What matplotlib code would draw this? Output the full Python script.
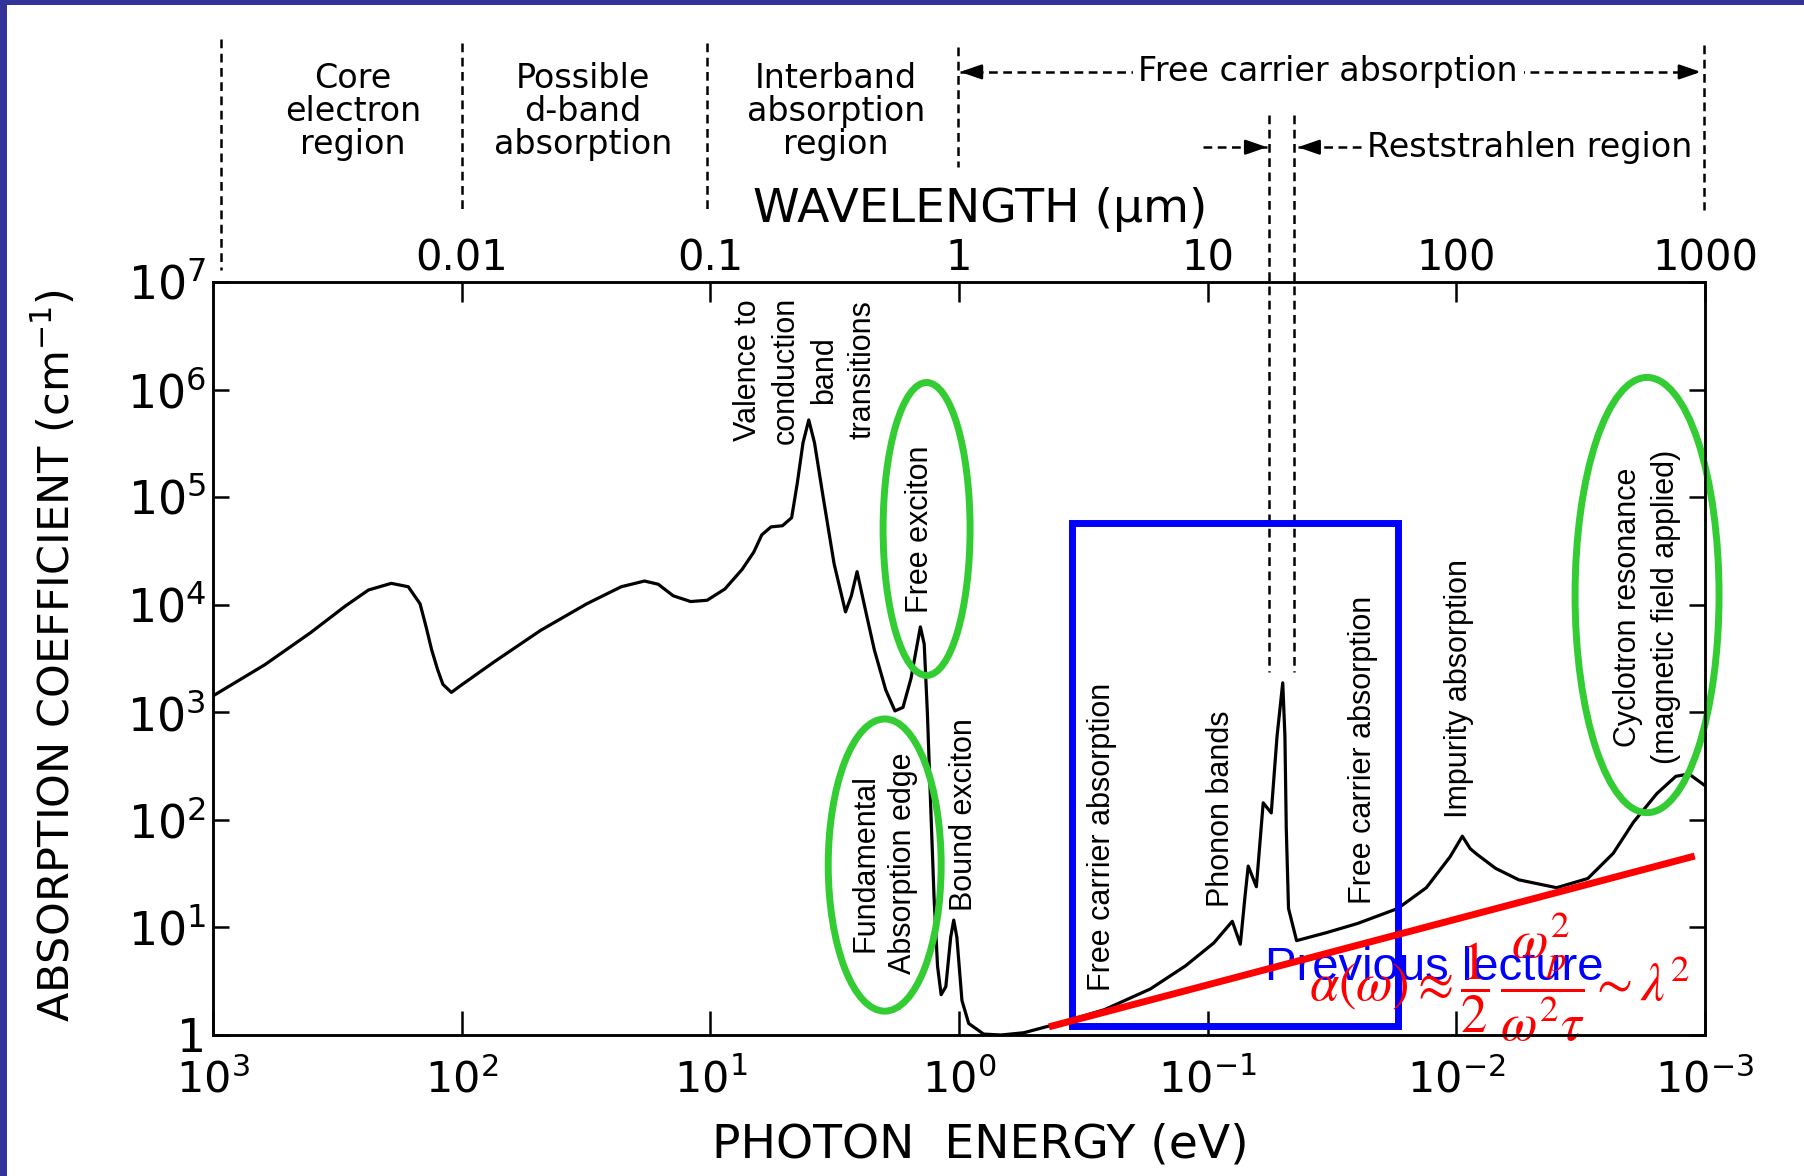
import matplotlib
matplotlib.use('Agg')
import matplotlib.pyplot as plt
from matplotlib.patches import Ellipse, Rectangle
from matplotlib.transforms import blended_transform_factory

# ---------------- data ----------------
energy_eV = [1000, 620, 405, 294, 237, 192, 164, 147, 139, 132, 125, 119, 110, 101, 73.6,
             48.1, 31.4, 22.8, 18.4, 16.2, 14.1, 12.0, 10.3, 8.74, 7.45, 6.69, 6.21, 5.70,
             5.13, 4.71, 4.47, 4.24, 4.02, 3.81, 3.53, 3.18, 2.86, 2.71, 2.57, 2.38,
             2.19, 1.97, 1.81, 1.68, 1.56, 1.43, 1.38, 1.34, 1.30, 1.26, 1.22, 1.18,
             1.13, 1.08, 1.05, 1.02, 0.973, 0.914, 0.796, 0.678, 0.548, 0.398, 0.260,
             0.170, 0.123, 0.0945, 0.0796, 0.0739, 0.0708, 0.0687, 0.0637, 0.0598,
             0.0555, 0.0526, 0.0499, 0.0489, 0.0483, 0.0473, 0.0439, 0.0333, 0.0249,
             0.0172, 0.0132, 0.0106, 0.00946, 0.00879, 0.00824, 0.00695, 0.00561,
             0.00395, 0.00296, 0.00234, 0.00194, 0.00156, 0.00131, 0.00116, 0.001]
absorption_cm = [1420, 2760, 5500, 9700, 13700, 15800, 14700, 10200, 6220, 3800, 2500,
                 1820, 1530, 1770, 2970, 5780, 10200, 14700, 16600, 15500, 12100, 10700,
                 11000, 14000, 21300, 30800, 44600, 52900, 54200, 64400, 135000, 319000,
                 522000, 319000, 105000, 24100, 8570, 12100, 20300, 9000, 3800, 1610,
                 1030, 1110, 2060, 6220, 4300, 983, 137, 19.2, 4.38, 2.37, 2.81, 8.10,
                 11.7, 8.10, 2.09, 1.28, 1.02, 1.0, 1.05, 1.28, 1.72, 2.68, 4.38, 7.17,
                 11.4, 6.98, 19.2, 37.2, 23.9, 144, 116, 600, 1880, 600, 84.0, 15.0,
                 7.54, 8.94, 10.9, 15.0, 23.4, 45.3, 70.5, 53.9, 47.6, 35.4, 27.7, 23.4,
                 28.5, 48.8, 95.1, 176, 254, 267, 208]

energy_ticks = [1e3, 1e2, 1e1, 1e0, 1e-1, 1e-2, 1e-3]
energy_labels = [r'$10^{3}$', r'$10^{2}$', r'$10^{1}$', r'$10^{0}$',
                 r'$10^{-1}$', r'$10^{-2}$', r'$10^{-3}$']
alpha_ticks = [1, 1e1, 1e2, 1e3, 1e4, 1e5, 1e6, 1e7]
alpha_labels = ['1', r'$10^{1}$', r'$10^{2}$', r'$10^{3}$', r'$10^{4}$',
                r'$10^{5}$', r'$10^{6}$', r'$10^{7}$']
wavelength_ticks = [0.01, 0.1, 1, 10, 100, 1000]
wavelength_labels = ['0.01', '0.1', '1', '10', '100', '1000']

# region boundaries (eV) for the dashed lines of the header
region_bounds_eV = [930, 100, 10.3, 1.01, 0.0568, 0.0449, 0.00101]

# Drude fit line (red) and highlighted box (blue)
drude_E = [0.435, 0.0011]
drude_alpha = [1.19, 46.1]
box_E = [0.351, 0.0172]
box_alpha = [1.21, 57500]

# ---------------- figure ----------------
fig = plt.figure(figsize=(18.04, 11.76), dpi=100)
fig.patch.set_facecolor('white')
ax = fig.add_axes([213 / 1804, 141 / 1176, 1492 / 1804, 753 / 1176])
ax.set_xscale('log')
ax.set_yscale('log')
ax.set_xlim(1e3, 1e-3)
ax.set_ylim(1, 1e7)

ax.plot(energy_eV, absorption_cm, color='black', lw=2.3, solid_joinstyle='round', zorder=3)

for s in ax.spines.values():
    s.set_linewidth(1.8)
ax.set_xticks(energy_ticks)
ax.set_xticklabels(energy_labels)
ax.set_yticks(alpha_ticks)
ax.set_yticklabels(alpha_labels)
ax.minorticks_off()
ax.tick_params(axis='x', direction='in', length=17, width=1.8, pad=17, labelsize=31, top=False)
ax.tick_params(axis='y', direction='in', length=11.5, width=1.8, pad=5, labelsize=33, right=True)

ax2 = ax.twiny()
ax2.set_xscale('log')
ax2.set_xlim(1e-3, 1e3)
ax2.set_xticks(wavelength_ticks)
ax2.set_xticklabels(wavelength_labels)
ax2.minorticks_off()
ax2.tick_params(axis='x', direction='in', length=14.5, width=1.8, pad=2, labelsize=30)
for s in ax2.spines.values():
    s.set_linewidth(1.8)

# axis titles
fig.text(980 / 1804, 1 - 209 / 1176, 'WAVELENGTH (μm)', fontsize=34, ha='center', va='center')
fig.text(980 / 1804, 1 - 1145 / 1176, 'PHOTON  ENERGY (eV)', fontsize=34, ha='center', va='center')
fig.text(55 / 1804, 1 - 656 / 1176, r'ABSORPTION COEFFICIENT (cm$^{-1}$)', fontsize=31,
         rotation=90, ha='center', va='center')

# ---------------- header ----------------
hdr = blended_transform_factory(ax.transData, ax.transAxes)
dash_kw = dict(color='black', lw=1.8, linestyle=(0, (3.5, 2.2)), transform=hdr, clip_on=False)
ax.plot([region_bounds_eV[0]] * 2, [1.323, 1.016], **dash_kw)
ax.plot([region_bounds_eV[1]] * 2, [1.317, 1.096], **dash_kw)
ax.plot([region_bounds_eV[2]] * 2, [1.317, 1.096], **dash_kw)
ax.plot([region_bounds_eV[3]] * 2, [1.312, 1.153], **dash_kw)
ax.plot([region_bounds_eV[4]] * 2, [1.222, 0.482], **dash_kw)
ax.plot([region_bounds_eV[5]] * 2, [1.222, 0.482], **dash_kw)
ax.plot([region_bounds_eV[6]] * 2, [1.315, 1.096], **dash_kw)

hfont = dict(fontsize=24, ha='center', va='center', linespacing=1.0, transform=hdr)
ax.text(273, 1.2258, 'Core\nelectron\nregion', **hfont)
ax.text(32.5, 1.2258, 'Possible\nd-band\nabsorption', **hfont)
ax.text(3.12, 1.2258, 'Interband\nabsorption\nregion', **hfont)


def arrow_head(tip, tail, y):
    ax.annotate('', xy=(tip, y), xytext=(tail, y), xycoords=hdr, textcoords=hdr,
                arrowprops=dict(arrowstyle='-|>,head_length=1.3,head_width=0.45',
                                lw=1.8, color='black', shrinkA=0, shrinkB=0,
                                mutation_scale=10))


# "Free carrier absorption" arrow
ax.plot([0.99, 0.00104], [1.279, 1.279], **dash_kw)
arrow_head(0.99, 0.82, 1.279)
arrow_head(0.00104, 0.00126, 1.279)
ax.text(0.0328, 1.279, 'Free carrier absorption', fontsize=24, ha='center', va='center',
        transform=hdr, bbox=dict(facecolor='white', edgecolor='none', pad=4))

# Reststrahlen arrows
ax.plot([0.1045, 0.0577], [1.179, 1.179], **dash_kw)
arrow_head(0.0577, 0.070, 1.179)
ax.plot([0.0241, 0.0434], [1.179, 1.179], **dash_kw)
arrow_head(0.0434, 0.036, 1.179)
ax.text(0.0229, 1.179, 'Reststrahlen region', fontsize=24, ha='left', va='center', transform=hdr)

# ---------------- in-plot labels ----------------
lfont = dict(fontsize=22, family='Liberation Sans', rotation=90, ha='center', va='center',
             multialignment='center', linespacing=1.35, zorder=4)
ax.text(4.16, 1.52e6, 'Valence to\nconduction\nband\ntransitions', **lfont)
ax.text(1.44, 50600, 'Free exciton', **lfont)
ax.text(2.00, 39.7, 'Fundamental\nAbsorption edge', **lfont)
ax.text(0.955, 113, 'Bound exciton', **lfont)
ax.text(0.266, 69.3, 'Free carrier absorption', **lfont)
ax.text(0.0883, 126, 'Phonon bands', **lfont)
ax.text(0.0237, 446, 'Free carrier absorption', **lfont)
ax.text(0.00975, 1680, 'Impurity absorption', **lfont)
ax.text(0.00171, 9530, 'Cyclotron resonance\n(magnetic field applied)', **lfont)

# ---------------- overlays ----------------
ax.add_patch(Rectangle((box_E[0], box_alpha[0]), box_E[1] - box_E[0], box_alpha[1] - box_alpha[0],
                       fill=False, edgecolor='#0000ff', lw=5, clip_on=False, zorder=5))


def ax_frac(E, a):
    return ax.transAxes.inverted().transform(ax.transData.transform((E, a)))


for (E, a, w, h) in [(1.35, 50600, 0.0583, 0.389),
                     (1.99, 38.0, 0.0757, 0.388),
                     (0.00171, 12300, 0.0965, 0.578)]:
    ax.add_patch(Ellipse(ax_frac(E, a), w, h, transform=ax.transAxes, fill=False,
                         edgecolor='#33cc33', lw=5, clip_on=False, zorder=6))

ax.text(0.0587, 3.25, 'Previous lecture', family='Liberation Sans', fontsize=34,
        color='#0000ff', ha='left', va='baseline', zorder=6)
ax.plot(drude_E, drude_alpha, color='#ff0000', lw=5, solid_capstyle='butt', zorder=7,
        clip_on=False)
ax.text(0.0392, 3.46,
        r'$\alpha(\omega)\approx\dfrac{1}{2}\,\dfrac{\omega_p^{2}}{\omega^{2}\tau}\sim\lambda^{2}$',
        math_fontfamily='stix', fontsize=38, color='#ff0000', ha='left', va='center', zorder=8)

# slide border
fig.add_artist(Rectangle((0, 0), 7 / 1804, 1, transform=fig.transFigure,
                         facecolor='#333399', edgecolor='none'))
fig.add_artist(Rectangle((0, 1 - 5 / 1176), 1, 5 / 1176, transform=fig.transFigure,
                         facecolor='#333399', edgecolor='none'))

fig.savefig('out.png', dpi=100)
